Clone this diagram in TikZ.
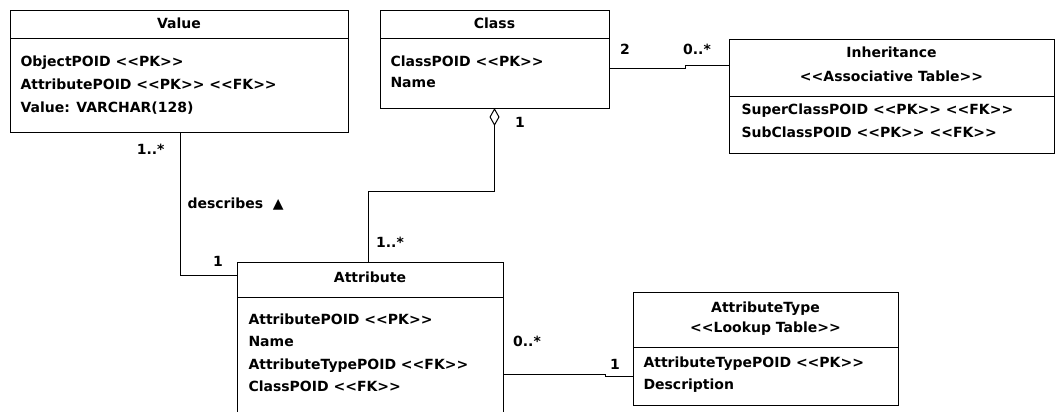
\documentclass[tikz,border=0pt]{standalone}
\usepackage{fontspec}
\setmainfont{DejaVu Sans}
\usetikzlibrary{arrows.meta}
% double angle brackets kept as two separate glyphs
\newcommand\dlt{<\kern0pt<}
\newcommand\dgt{>\kern0pt>}
\newcommand\stereo[1]{\dlt#1\dgt}
\begin{document}
\begin{tikzpicture}[x=0.75pt,y=-0.75pt,
  font=\fontsize{10.5}{12}\selectfont\bfseries,
  line width=0.75pt,
  table/.style={draw, rectangle, inner sep=0pt, outer sep=0pt, anchor=north west},
  title/.style={inner sep=0pt, text height=8pt, text depth=2pt},
  row/.style={inner sep=0pt, text height=8pt, text depth=2pt, anchor=west},
  mult/.style={inner sep=0pt, text height=8pt, text depth=2pt},
  link/.style={draw, line width=0.75pt}]
\useasboundingbox (0,0) rectangle (1055,411);
\clip (0,0) rectangle (1055,411);

% ---------- tables ----------
\node[table, minimum width=253.5pt, minimum height=91.5pt] (value) at (10,10) {};
\node[table, minimum width=171.75pt, minimum height=73.5pt] (class) at (380,10) {};
\node[table, minimum width=243.75pt, minimum height=85.5pt] (inherit) at (729,39) {};
\node[table, minimum width=199.5pt, minimum height=120pt] (attr) at (237,262) {};
\node[table, minimum width=198.75pt, minimum height=84.75pt] (atype) at (633,292) {};

% compartment separators
\draw (value.west |- 0,38) -- (value.east |- 0,38);
\draw (class.west |- 0,38) -- (class.east |- 0,38);
\draw (inherit.west |- 0,96) -- (inherit.east |- 0,96);
\draw (attr.west |- 0,297) -- (attr.east |- 0,297);
\draw (atype.west |- 0,347) -- (atype.east |- 0,347);

% Value
\node[title] (valuet) at (value.north |- 0,24) {Value};
\node[row] (value1) at (20,62) {ObjectPOID \stereo{PK}};
\node[row] (value2) at (20,85) {AttributePOID \stereo{PK} \stereo{FK}};
\node[row] (value3) at (20,108) {Value: VARCHAR(128)};

% Class
\node[title] (classt) at (class.north |- 0,24) {Class};
\node[row] (class1) at (390,62) {ClassPOID \stereo{PK}};
\node[row] (class2) at (390,83) {Name};

% Inheritance
\node[title] (inheritt) at (inherit.north |- 0,53) {Inheritance};
\node[title] (inherits) at (inherit.north |- 0,77) {\stereo{Associative Table}};
\node[row] (inherit1) at (741,110) {SuperClassPOID \stereo{PK} \stereo{FK}};
\node[row] (inherit2) at (741,133) {SubClassPOID \stereo{PK} \stereo{FK}};

% Attribute
\node[title] (attrt) at (attr.north |- 0,278) {Attribute};
\node[row] (attr1) at (248,320) {AttributePOID \stereo{PK}};
\node[row] (attr2) at (248,342) {Name};
\node[row] (attr3) at (248,365) {AttributeTypePOID \stereo{FK}};
\node[row] (attr4) at (248,387) {ClassPOID \stereo{FK}};

% AttributeType
\node[title] (atypet) at (atype.north |- 0,308) {AttributeType};
\node[title] (atypes) at (atype.north |- 0,328) {\stereo{Lookup Table}};
\node[row] (atype1) at (643,363) {AttributeTypePOID \stereo{PK}};
\node[row] (atype2) at (643,385) {Description};

% ---------- associations ----------
% Value -- Attribute
\draw[link] (value.south -| 180,0) |- (attr.west |- 0,275);
\node[mult, anchor=east] (m1) at (165,150) {1..*};
\node[mult, anchor=west] (rel) at (187,204) {describes \ ▲};
\node[mult] (m2) at (218,262) {1};

% Class <>-- Attribute (aggregation)
\draw[link, {Diamond[open,length=13.5pt,width=7.5pt]}-]
  (class.south) -- (class.south |- 0,191) -| (attr.north -| 368,0);
\node[mult] (m3) at (520,123) {1};
\node[mult] (m4) at (390,243) {1..*};

% Class -- Inheritance
\draw[link] (class.east |- 0,68) -- (685,68) -- (685,65) -- (inherit.west |- 0,65);
\node[mult] (m5) at (625,50) {2};
\node[mult] (m6) at (697,50) {0..*};

% Attribute -- AttributeType
\draw[link] (attr.east |- 0,374) -- (605,374) -- (605,376) -- (atype.west |- 0,376);
\node[mult] (m7) at (527,342) {0..*};
\node[mult] (m8) at (615,365) {1};
\end{tikzpicture}
\end{document}
